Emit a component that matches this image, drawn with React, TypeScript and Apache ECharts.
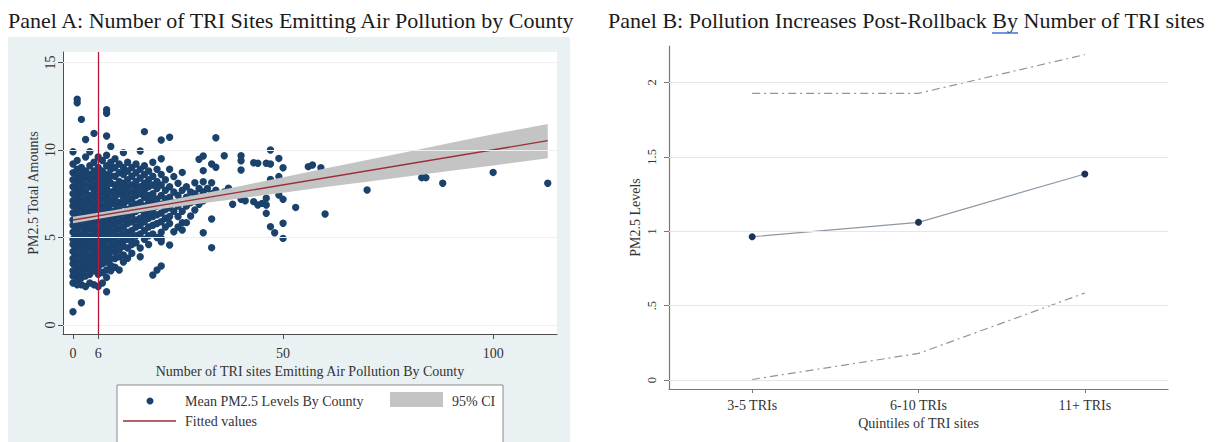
import React, { useEffect, useRef } from 'react';
import * as echarts from 'echarts';

// ---------- Panel A data ----------
const titleA = 'Panel A: Number of TRI Sites Emitting Air Pollution by County';
const xNameA = 'Number of TRI sites Emitting Air Pollution By County';
const yNameA = 'PM2.5 Total Amounts';
const xTicksA = [0, 6, 50, 100];
const yTicksA = [0, 5, 10, 15];
const cutoffA = 6;

// [number of TRI sites, list of county mean PM2.5 values at that count]
const scatterColumns: [number, number[]][] = [
  [0, [9.9, 9.2, 8.7, 8.3, 7.9, 7.5, 7.1, 6.8, 6.4, 6.0, 5.7, 5.3, 4.9, 4.6, 4.2, 3.8, 3.5, 3.1, 2.8, 2.4, 0.76]],
  [1, [12.9, 12.7, 9.4, 8.9, 8.5, 8.1, 7.7, 7.3, 6.9, 6.6, 6.2, 5.8, 5.5, 5.1, 4.7, 4.4, 4.0, 3.6, 3.3, 2.9, 2.5, 2.3]],
  [2, [11.75, 9.0, 8.6, 8.2, 7.8, 7.5, 7.1, 6.7, 6.3, 6.0, 5.6, 5.2, 4.8, 4.5, 4.1, 3.7, 3.4, 3.0, 2.7, 2.3, 1.27]],
  [3, [10.6, 9.6, 8.8, 8.4, 8.0, 7.6, 7.2, 6.9, 6.5, 6.1, 5.7, 5.4, 5.0, 4.6, 4.3, 3.9, 3.5, 3.2, 2.8, 2.2]],
  [4, [9.9, 9.1, 8.6, 8.3, 7.9, 7.4, 7.0, 6.6, 6.2, 5.9, 5.5, 5.1, 4.8, 4.4, 4.0, 3.7, 3.3, 2.9, 2.4]],
  [5, [10.95, 9.3, 8.8, 8.4, 8.0, 7.7, 7.3, 6.9, 6.5, 6.1, 5.8, 5.4, 5.0, 4.6, 4.2, 3.9, 3.5, 3.1, 2.3]],
  [6, [9.6, 9.0, 8.6, 8.2, 7.8, 7.4, 7.0, 6.7, 6.3, 5.9, 5.5, 5.2, 4.8, 4.4, 4.1, 3.7, 3.3, 2.9, 2.2]],
  [7, [9.4, 8.8, 8.4, 8.0, 7.6, 7.2, 6.8, 6.5, 6.1, 5.7, 5.3, 5.0, 4.6, 4.2, 3.8, 3.5, 3.0, 2.4]],
  [8, [12.3, 12.1, 10.8, 9.7, 9.1, 8.6, 8.2, 7.8, 7.4, 7.1, 6.7, 6.3, 5.9, 5.5, 5.1, 4.8, 4.4, 4.0, 3.6, 3.14, 2.72, 1.9]],
  [9, [10.2, 9.3, 8.9, 8.5, 8.1, 7.6, 7.2, 6.9, 6.5, 6.1, 5.7, 5.3, 4.9, 4.5, 4.2, 3.8, 3.4, 3.1]],
  [10, [9.5, 9.0, 8.5, 8.0, 7.7, 7.3, 6.9, 6.5, 6.2, 5.8, 5.4, 5.0, 4.6, 4.2, 3.8, 3.3]],
  [11, [9.2, 8.7, 8.2, 7.8, 7.5, 7.0, 6.6, 6.3, 5.9, 5.5, 5.1, 4.7, 4.3, 3.9, 3.14]],
  [12, [9.85, 9.0, 8.6, 8.1, 7.7, 7.3, 6.9, 6.4, 6.0, 5.6, 5.2, 4.8, 4.5, 4.0, 3.6]],
  [13, [9.3, 8.8, 8.3, 7.9, 7.5, 7.1, 6.6, 6.2, 5.8, 5.3, 4.9, 4.4, 3.81]],
  [14, [9.0, 8.5, 8.0, 7.6, 7.2, 6.8, 6.3, 5.9, 5.4, 5.0, 4.6, 4.1]],
  [15, [9.2, 8.7, 8.2, 7.8, 7.4, 6.9, 6.5, 6.0, 5.6, 5.1, 4.7]],
  [16, [9.94, 8.9, 8.4, 7.9, 7.5, 7.0, 6.6, 6.1, 5.7, 5.2, 4.4, 3.9]],
  [17, [11.05, 9.1, 8.6, 8.1, 7.7, 7.3, 6.8, 6.3, 5.9, 5.4, 4.9]],
  [18, [8.8, 8.3, 7.9, 7.4, 7.0, 6.5, 6.1, 5.6, 5.1, 4.6]],
  [19, [9.3, 8.5, 8.0, 7.5, 7.1, 6.6, 6.2, 5.7, 5.2, 2.86]],
  [20, [8.9, 8.2, 7.8, 7.2, 6.8, 6.3, 5.8, 5.0, 3.14]],
  [21, [10.57, 9.5, 8.6, 8.0, 7.4, 6.9, 6.4, 5.9, 5.3, 4.95, 4.76, 3.37]],
  [22, [8.3, 7.7, 7.2, 6.6, 6.1, 5.6]],
  [23, [10.73, 8.9, 7.9, 7.3, 6.7, 6.2, 5.8, 4.57]],
  [24, [8.48, 7.6, 7.0, 6.5, 5.33]],
  [25, [8.1, 7.4, 6.8, 6.2, 5.6]],
  [26, [8.72, 7.7, 7.1, 6.5, 5.85, 5.43]],
  [27, [7.9, 7.3, 6.8, 5.85]],
  [28, [7.6, 7.0, 6.23]],
  [29, [8.13, 7.5, 7.1, 6.57]],
  [30, [9.47, 7.8, 7.3, 6.9]],
  [31, [9.66, 8.82, 8.19, 7.6, 7.1, 5.27]],
  [32, [7.8, 7.3]],
  [33, [9.2, 8.13, 7.5, 6.06, 4.42]],
  [34, [10.7, 9.01, 7.7]],
  [35, [7.4]],
  [36, [9.67, 7.6]],
  [37, [7.81]],
  [38, [6.9]],
  [40, [9.67, 9.39, 8.86, 7.18]],
  [41, [7.1]],
  [43, [9.27, 7.62, 7.05]],
  [44, [9.24, 6.86]],
  [45, [6.95]],
  [46, [9.24, 7.24, 6.86, 6.38]],
  [47, [10.0, 9.2, 8.32, 5.62]],
  [48, [5.27]],
  [49, [9.52, 8.48, 7.43]],
  [50, [8.99, 7.18, 5.81, 4.95]],
  [53, [6.72]],
  [56, [9.05]],
  [57, [9.14]],
  [59, [8.99]],
  [60, [6.34]],
  [70, [7.71]],
  [83, [8.42]],
  [84, [8.42]],
  [88, [8.1]],
  [100, [8.72]],
  [113, [8.1]],
];

const fitX = [0, 113];
const fitY = [6.0, 10.53];
const ciX = [0, 10, 20, 30, 40, 50, 60, 70, 80, 90, 100, 113];
const ciLower = [5.82, 6.23, 6.6, 6.93, 7.25, 7.56, 7.88, 8.19, 8.5, 8.81, 9.12, 9.53];
const ciUpper = [6.18, 6.57, 7.0, 7.47, 7.95, 8.44, 8.94, 9.43, 9.92, 10.41, 10.9, 11.48];

const legendA = ['Mean PM2.5 Levels By County', '95% CI', 'Fitted values'];

// ---------- Panel B data ----------
const titleB = 'Panel B: Pollution Increases Post-Rollback By Number of TRI sites';
const xNameB = 'Quintiles of TRI sites';
const yNameB = 'PM2.5 Levels';
const categoriesB = ['3-5 TRIs', '6-10 TRIs', '11+ TRIs'];
const estimateB = [0.963, 1.06, 1.385];
const upperB = [1.927, 1.927, 2.187];
const lowerB = [0.004, 0.179, 0.585];
const yTicksB = [0, 0.5, 1, 1.5, 2];

const SERIF = '"Liberation Serif", "Times New Roman", serif';
const NAVY = '#1a426c';
const MAROON = '#9a2f3c';
const CRIMSON = '#b8173f';
const TXT = '#333333';

export default function App() {
  const ref = useRef<HTMLDivElement>(null);

  useEffect(() => {
    document.body.style.margin = '0';
    if (!ref.current) return;
    const chart = echarts.init(ref.current, undefined, { renderer: 'svg' });

    const scatterData: number[][] = [];
    scatterColumns.forEach(([x, ys]) => ys.forEach((y) => scatterData.push([x, y])));

    const option: any = {
      animation: false,
      textStyle: { fontFamily: SERIF },
      grid: [
        { left: 63, top: 52, width: 494, height: 282, show: true, backgroundColor: '#ffffff', borderWidth: 0 },
        { left: 669, top: 46, width: 499, height: 343 },
      ],
      xAxis: [
        {
          gridIndex: 0, type: 'value', min: -2.38, max: 115.2,
          splitLine: { show: false },
          axisLine: { onZero: false, lineStyle: { color: '#4d4d4d', width: 1 } },
          axisTick: { show: true, length: 5, customValues: xTicksA, lineStyle: { color: '#4d4d4d' } },
          axisLabel: { customValues: xTicksA, fontSize: 14, color: TXT, margin: 12, fontFamily: SERIF },
          name: xNameA, nameLocation: 'middle', nameGap: 29,
          nameTextStyle: { fontSize: 14, color: TXT, fontFamily: SERIF },
        },
        {
          gridIndex: 1, type: 'category', data: categoriesB,
          splitLine: { show: false },
          axisLine: { onZero: false, lineStyle: { color: '#777777', width: 1.2 } },
          axisTick: { show: true, alignWithLabel: true, length: 4, lineStyle: { color: '#777777' } },
          axisLabel: { fontSize: 14, color: TXT, margin: 9, fontFamily: SERIF },
          name: xNameB, nameLocation: 'middle', nameGap: 25,
          nameTextStyle: { fontSize: 14, color: TXT, fontFamily: SERIF },
        },
      ],
      yAxis: [
        {
          gridIndex: 0, type: 'value', min: -0.514, max: 15.6,
          splitLine: { show: false },
          axisLine: { show: true, onZero: false, lineStyle: { color: '#4d4d4d', width: 1 } },
          axisTick: { show: true, length: 5, customValues: yTicksA, lineStyle: { color: '#4d4d4d' } },
          axisLabel: { customValues: yTicksA, rotate: 90, fontSize: 14, color: TXT, margin: 6, fontFamily: SERIF },
          name: yNameA, nameLocation: 'middle', nameGap: 23,
          nameTextStyle: { fontSize: 14, color: TXT, fontFamily: SERIF },
        },
        {
          gridIndex: 1, type: 'value', min: -0.06, max: 2.245,
          splitLine: { show: false },
          axisLine: { show: true, onZero: false, lineStyle: { color: '#777777', width: 1.2 } },
          axisTick: { show: true, length: 5, customValues: yTicksB, lineStyle: { color: '#777777' } },
          axisLabel: {
            customValues: yTicksB, rotate: 90, fontSize: 12.5, color: TXT, margin: 11, fontFamily: SERIF,
            formatter: (v: number) => (v > 0 && v < 1 ? String(v).replace(/^0/, '') : String(v)),
          },
          name: yNameB, nameLocation: 'middle', nameGap: 27,
          nameTextStyle: { fontSize: 14, color: TXT, fontFamily: SERIF },
        },
      ],
      graphic: [
        { type: 'rect', z: -10, silent: true, shape: { x: 8, y: 37, width: 562, height: 410 }, style: { fill: '#eaf1f3' } },
        { type: 'text', x: 8, y: 20, style: { text: titleA, font: `22px ${SERIF}`, fill: '#1a1a1a', verticalAlign: 'middle' } },
        { type: 'text', x: 608, y: 20, style: { text: titleB, font: `22px ${SERIF}`, fill: '#1a1a1a', verticalAlign: 'middle' } },
        { type: 'line', shape: { x1: 992, y1: 33, x2: 1018, y2: 33 }, style: { stroke: '#4a6fd0', lineWidth: 1.5 } },
        // legend of Panel A
        { type: 'rect', z: 50, shape: { x: 117, y: 385, width: 386, height: 70 }, style: { fill: '#ffffff', stroke: '#8a8a8a', lineWidth: 1 } },
        { type: 'circle', z: 51, shape: { cx: 150, cy: 401, r: 3.5 }, style: { fill: NAVY } },
        { type: 'text', z: 51, x: 185, y: 401, style: { text: legendA[0], font: `14px ${SERIF}`, fill: TXT, verticalAlign: 'middle' } },
        { type: 'rect', z: 51, shape: { x: 390, y: 392, width: 53, height: 15 }, style: { fill: '#c4c4c4' } },
        { type: 'text', z: 51, x: 452, y: 401, style: { text: legendA[1], font: `14px ${SERIF}`, fill: TXT, verticalAlign: 'middle' } },
        { type: 'line', z: 51, shape: { x1: 123, y1: 421, x2: 176, y2: 421 }, style: { stroke: MAROON, lineWidth: 1.3 } },
        { type: 'text', z: 51, x: 185, y: 421, style: { text: legendA[2], font: `14px ${SERIF}`, fill: TXT, verticalAlign: 'middle' } },
      ],
      series: [
        // Panel A grid lines
        {
          type: 'line', xAxisIndex: 0, yAxisIndex: 0, data: [], z: 1, silent: true,
          markLine: {
            silent: true, symbol: 'none', label: { show: false },
            lineStyle: { color: '#efefef', width: 1, type: 'solid' },
            data: yTicksA.map((v) => ({ yAxis: v })),
          },
        },
        {
          type: 'scatter', xAxisIndex: 0, yAxisIndex: 0, data: scatterData, z: 2,
          symbol: 'circle', symbolSize: 7.4, itemStyle: { color: NAVY, opacity: 1 },
        },
        {
          type: 'custom', xAxisIndex: 0, yAxisIndex: 0, z: 3, silent: true,
          data: ciX.map((x, i) => [x, ciLower[i], ciUpper[i]]),
          encode: { x: 0, y: [1, 2] },
          renderItem: (params: any, api: any) => {
            if (params.dataIndex !== 0) return null;
            const pts: number[][] = [];
            for (let i = 0; i < ciX.length; i++) pts.push(api.coord([ciX[i], ciUpper[i]]));
            for (let i = ciX.length - 1; i >= 0; i--) pts.push(api.coord([ciX[i], ciLower[i]]));
            return { type: 'polygon', shape: { points: pts }, style: { fill: '#c4c4c4' } };
          },
        },
        {
          type: 'line', xAxisIndex: 0, yAxisIndex: 0, z: 4, symbol: 'none',
          data: fitX.map((x, i) => [x, fitY[i]]),
          lineStyle: { color: MAROON, width: 1.3 },
          markLine: {
            silent: true, symbol: 'none', label: { show: false },
            lineStyle: { color: CRIMSON, width: 1.3, type: 'solid' },
            data: [{ xAxis: cutoffA }],
          },
        },
        // Panel B grid lines
        {
          type: 'line', xAxisIndex: 1, yAxisIndex: 1, data: [], z: 1, silent: true,
          markLine: {
            silent: true, symbol: 'none', label: { show: false },
            lineStyle: { color: '#e6e6e6', width: 1, type: 'solid' },
            data: yTicksB.map((v) => ({ yAxis: v })),
          },
        },
        {
          type: 'line', xAxisIndex: 1, yAxisIndex: 1, data: upperB, symbol: 'none', z: 3,
          lineStyle: { color: '#8e959f', width: 1.2, type: [8, 4, 2, 4] },
        },
        {
          type: 'line', xAxisIndex: 1, yAxisIndex: 1, data: lowerB, symbol: 'none', z: 3,
          lineStyle: { color: '#8e959f', width: 1.2, type: [8, 4, 2, 4] },
        },
        {
          type: 'line', xAxisIndex: 1, yAxisIndex: 1, data: estimateB, z: 4,
          symbol: 'circle', symbolSize: 7,
          lineStyle: { color: '#8d98a6', width: 1.2 },
          itemStyle: { color: '#1c3354', borderWidth: 0 },
        },
      ],
    };

    chart.setOption(option);
    return () => chart.dispose();
  }, []);

  return <div ref={ref} style={{ width: 1222, height: 442 }} />;
}
